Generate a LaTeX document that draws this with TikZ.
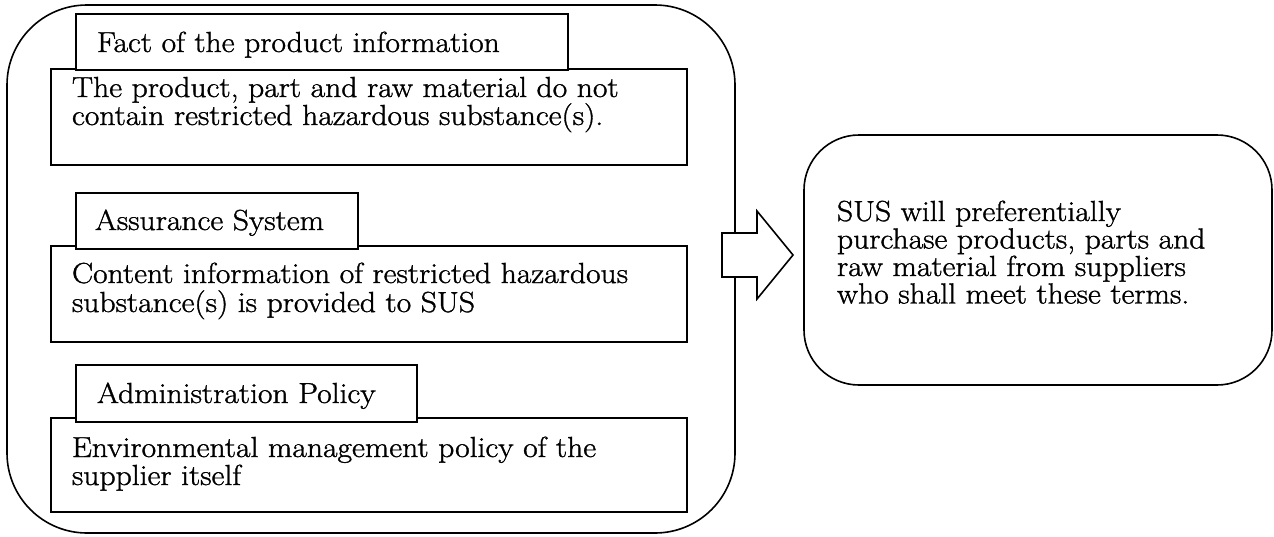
\documentclass[tikz,border=0pt]{standalone}
\usepackage{fontspec}
\setmainfont{Latin Modern Roman}[FakeStretch=1.09,FakeBold=1.2]
\begin{document}
\begin{tikzpicture}[x=1pt,y=-1pt,
  every node/.style={inner sep=0pt,outer sep=0pt},
  frame/.style={draw=black,line width=1.6pt,fill=white,anchor=north west},
  txt/.style={anchor=base west,font=\fontsize{29}{28}\selectfont}
]
\useasboundingbox (0,0) rectangle (1274,536);
% outer rounded container
\node[frame,rounded corners=80pt,minimum width=728pt,minimum height=528pt] (outer) at (7,5) {};
% content boxes
\node[frame,minimum width=636pt,minimum height=96pt] (c1) at (51,69) {};
\node[frame,minimum width=636pt,minimum height=96pt] (c2) at (51,246) {};
\node[frame,minimum width=636pt,minimum height=94pt] (c3) at (51,418) {};
% tabs
\node[frame,minimum width=492pt,minimum height=56pt] (tab1) at (76,14) {};
\node[frame,minimum width=282pt,minimum height=56pt] (tab2) at (76,193) {};
\node[frame,minimum width=341pt,minimum height=57pt] (tab3) at (76,365) {};
% tab texts
\node[txt] (tt1) at (97,52) {Fact of the product information};
\node[txt] (tt2) at (95,230) {Assurance System};
\node[txt] (tt3) at (97,403) {Administration Policy};
% content texts
\node[txt] (c1a) at (72,97) {The product, part and raw material do not};
\node[txt] (c1b) at (72,125) {contain restricted hazardous substance(s).};
\node[txt] (c2a) at (72,283) {Content information of restricted hazardous};
\node[txt] (c2b) at (72,312) {substance(s) is provided to SUS};
\node[txt] (c3a) at (72,457) {Environmental management policy of the};
\node[txt] (c3b) at (72,485) {supplier itself};
% block arrow
\draw[line width=1.6pt,fill=white,line join=miter] (722,233) -- (757,233) -- (757,211) -- (793,255) -- (757,299) -- (757,277) -- (722,277) -- cycle;
% right rounded box
\node[frame,rounded corners=55pt,minimum width=468pt,minimum height=250pt] (res) at (804,135) {};
\node[txt] (r1) at (837,221) {SUS will preferentially};
\node[txt] (r2) at (837,248.5) {purchase products, parts and};
\node[txt] (r3) at (837,276) {raw material from suppliers};
\node[txt] (r4) at (837,303.5) {who shall meet these terms.};
\end{tikzpicture}
\end{document}
